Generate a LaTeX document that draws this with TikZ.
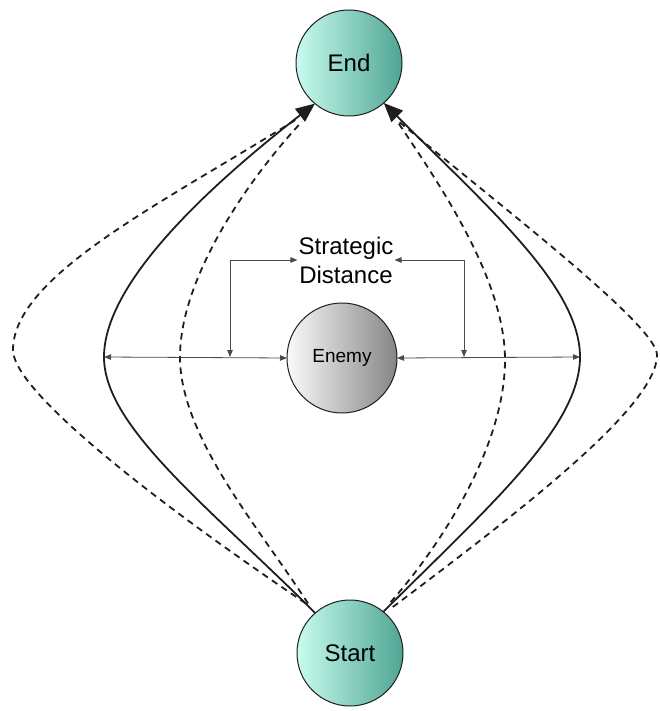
\documentclass[tikz,border=0pt]{standalone}
\usepackage{fontspec}
\setmainfont{Liberation Sans}
\usetikzlibrary{arrows.meta}

\definecolor{mintL}{HTML}{C8FCEF}
\definecolor{mintM}{HTML}{5AEBC8}
\definecolor{mintR}{HTML}{4FA593}
\definecolor{greyL}{HTML}{FAFAFA}
\definecolor{greyM}{HTML}{D0D0D0}
\definecolor{greyR}{HTML}{858585}
\definecolor{ink}{HTML}{1E1E1E}
\definecolor{thin}{HTML}{4A4A4A}

\begin{document}
\begin{tikzpicture}[x=1pt,y=-1pt,
  goal/.style={circle, draw=ink, line width=1pt, minimum size=106pt,
    inner sep=0pt, outer sep=0pt,
    left color=mintL, middle color=mintM, right color=mintR,
    font=\fontsize{24}{28}\selectfont},
  foe/.style={circle, draw=ink, line width=1pt, minimum size=110pt,
    inner sep=0pt, outer sep=0pt,
    left color=greyL, middle color=greyM, right color=greyR,
    font=\fontsize{19}{22}\selectfont},
  route/.style={line width=1.8pt, draw=ink,
    -{Triangle[length=19pt,width=16pt]}},
  alt/.style={line width=1.8pt, draw=ink, dash pattern=on 6.5pt off 5pt},
  gauge/.style={line width=0.8pt, draw=thin,
    {Triangle[length=7pt,width=5.5pt]}-{Triangle[length=7pt,width=5.5pt]}},
]
\useasboundingbox (0,0) rectangle (659,711);

% nodes
\node[goal] (End)   at (349,63)  {End};
\node[goal] (Start) at (350,653) {Start};
\node[foe]  (Enemy) at (342,358) {Enemy};
\node[align=center, inner sep=1pt, font=\fontsize{24}{29}\selectfont]
  (SD) at (346,260) {Strategic\\Distance};

% turning points of the routes
\coordinate (L0) at (13,350);
\coordinate (L1) at (104,357);
\coordinate (L2) at (180,357);
\coordinate (R2) at (505,360);
\coordinate (R1) at (580,357);
\coordinate (R0) at (657,355);

% feet of the distance markers
\coordinate (gL) at (230,357);
\coordinate (gR) at (464,357);

% solid routes
\draw[route] (Start.131) .. controls +(-106,-106) and +(0,70) .. (L1)
                         .. controls +(0,-70) and +(-118,92) .. (End.230);
\draw[route] (Start.51)  .. controls +(106,-106) and +(0,70) .. (R1)
                         .. controls +(0,-70) and +(106,106) .. (End.-49);

% alternative dashed routes
\draw[alt, shorten <=14pt, shorten >=22pt]
  (Start.128) .. controls +(-182,-123) and +(0,38) .. (L0)
              .. controls +(0,-75) and +(-151,95) .. (End.234);
\draw[alt, shorten <=12pt, shorten >=22pt]
  (Start.132) .. controls +(-54,-84) and +(0,80) .. (L2)
              .. controls +(0,-80) and +(-68,73) .. (End.233);
\draw[alt, shorten <=12pt, shorten >=22pt]
  (Start.52)  .. controls +(66,-75) and +(0,80) .. (R2)
              .. controls +(0,-80) and +(56,83) .. (End.-48);
\draw[alt, shorten <=10pt, shorten >=22pt]
  (Start.49)  .. controls +(144,-108) and +(0,50) .. (R0)
              .. controls +(0,-30) and +(115,96) .. (End.-54);

% distance markers
\draw[gauge] (L1) -- (Enemy.west);
\draw[gauge] (Enemy.east) -- (R1);
\draw[gauge] (SD.west) -| (gL);
\draw[gauge] (SD.east) -| (gR);
\end{tikzpicture}
\end{document}
